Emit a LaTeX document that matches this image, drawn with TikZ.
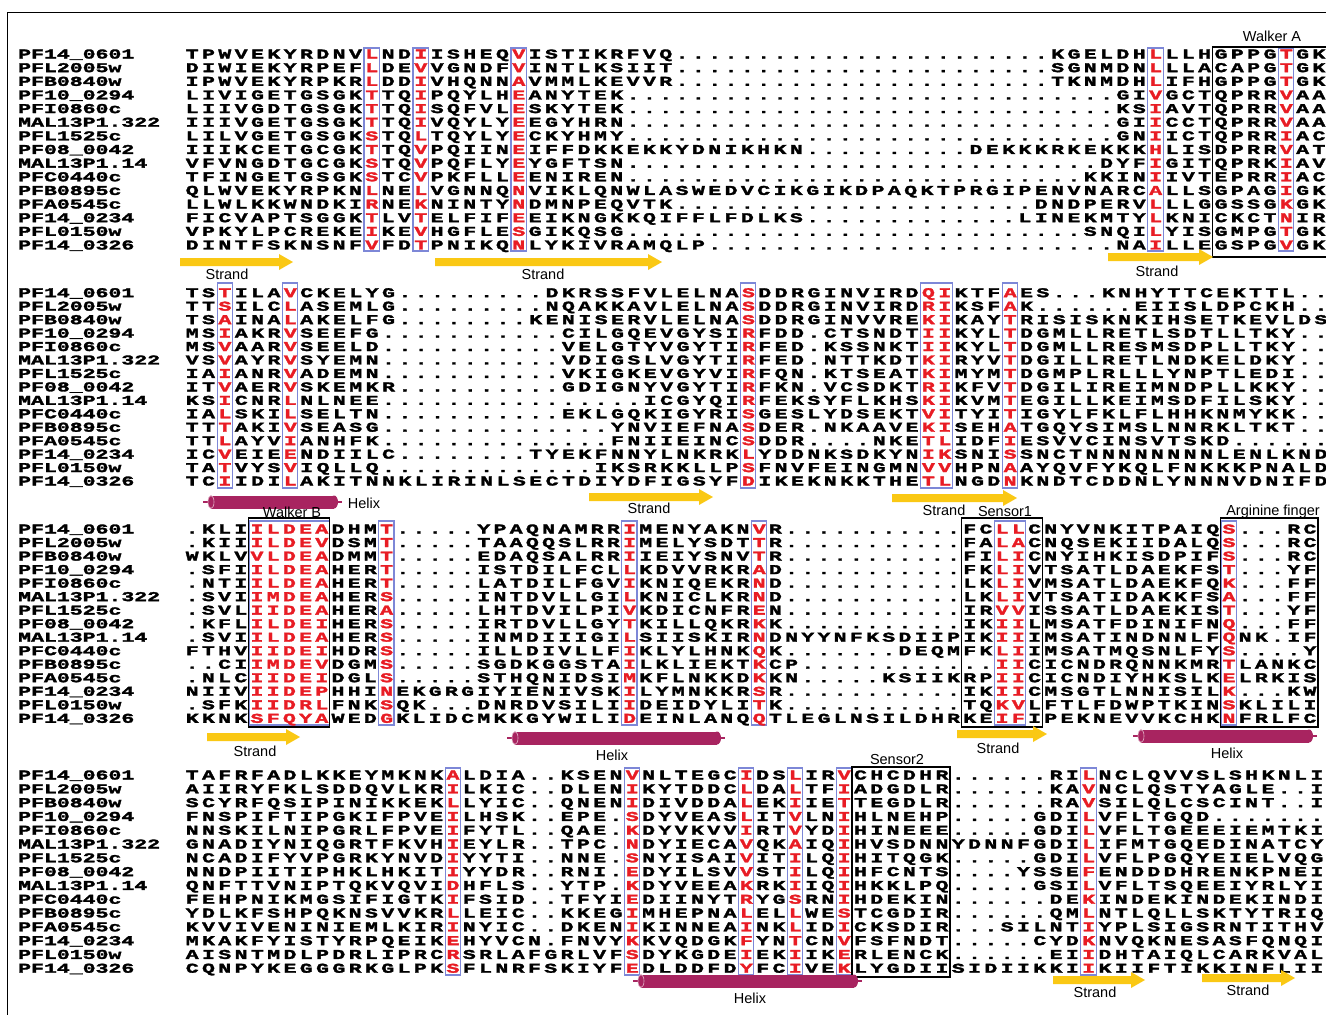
\documentclass[tikz,border=0pt]{standalone}
\usepackage{fontspec}
\setmainfont{Liberation Sans}
\newfontfamily\seqfont{Liberation Mono}[FakeStretch=1.6, BoldFeatures={FakeBold=2.2}]
\definecolor{seqred}{RGB}{232,28,36}
\definecolor{boxblue}{RGB}{125,135,215}
\definecolor{strandyel}{RGB}{250,200,20}
\definecolor{helixmag}{RGB}{168,36,96}
\newlength\cw
\newcount\dtc
\def\seqchar#1{\makebox[\cw]{\ifnum\uccode`#1=0 #1\else\ifnum\uccode`#1=`#1 #1\else\textcolor{seqred}{\uppercase{#1}}\fi\fi}}
\def\seqloop#1{\ifx#1\relax\else\seqchar{#1}\expandafter\seqloop\fi}
\newcommand\Seq[1]{\seqloop#1\relax}
\newcommand\Dt[1]{\dtc=#1\relax\loop\ifnum\dtc>0 \makebox[\cw]{.}\advance\dtc by -1\relax\repeat}
\def\nmloop#1{\ifx#1\relax\else\makebox[12.9pt]{#1}\expandafter\nmloop\fi}
\newcommand\Nm[1]{\nmloop#1\relax}
% block parameters: pitch, first row y, row step, box top, box bottom
\def\pa{16.33}\def\ya{54}\def\ha{13.64}\def\ta{48}\def\ba{251}
\def\pb{16.36}\def\yb{292.7}\def\hb{13.45}\def\tb{283}\def\bb{488}
\def\pc{16.2}\def\yc{529}\def\hc{13.52}\def\tc{521}\def\bc{725}
\def\pd{16.3}\def\yd{775}\def\hd{13.8}\def\td{768}\def\bd{975}
\tikzset{
  seqrow/.style={anchor=base west, inner sep=0pt, font=\seqfont\bfseries\fontsize{13.5}{13.5}\selectfont},
  namerow/.style={anchor=base west, inner sep=0pt, font=\seqfont\bfseries\fontsize{13.5}{13.5}\selectfont},
  lab/.style={inner sep=0pt, font=\fontsize{14.5}{14.5}\selectfont},
  bluebox/.style={draw=boxblue, line width=1.1pt},
  blackbox/.style={draw=black, line width=1.4pt}
}
\newcommand\SR[3]{\node[seqrow] (s#1#2) at ({192-\csname p#1\endcsname/2},{\csname y#1\endcsname+#2*\csname h#1\endcsname+4.5}) {\setlength\cw{\csname p#1\endcsname pt}#3};}
\newcommand\BB[3]{\draw[bluebox] ({192+#2*\csname p#1\endcsname-7.6},\csname t#1\endcsname) rectangle ({192+(#2+#3-1)*\csname p#1\endcsname+7.6},\csname b#1\endcsname);}
\newcommand\Names[1]{\foreach \n [count=\k from 0] in {PF14\_0601,PFL2005w,PFB0840w,PF10\_0294,PFI0860c,MAL13P1.322,PFL1525c,PF08\_0042,MAL13P1.14,PFC0440c,PFB0895c,PFA0545c,PF14\_0234,PFL0150w,PF14\_0326}{\node[namerow] (n#1\k) at (18,{\csname y#1\endcsname+\k*\csname h#1\endcsname+4.5}) {\expandafter\Nm\expandafter{\n}};}}
\newcommand\Strand[3]{\fill[strandyel] (#1,{#3-4}) -- ({#2-14},{#3-4}) -- ({#2-14},{#3-8}) -- (#2,#3) -- ({#2-14},{#3+8}) -- ({#2-14},{#3+4}) -- (#1,{#3+4}) -- cycle;}
\newcommand\Helix[3]{%
  \draw[helixmag, line width=1.6pt] (#1,#3) -- ({#1+8},#3);
  \draw[helixmag, line width=1.6pt] ({#2-4},#3) -- (#2,#3);
  \fill[helixmag] ({#1+8},{#3-6.5}) rectangle ({#2-8},{#3+6.5});
  \fill[helixmag] ({#2-8},#3) ellipse [x radius=4, y radius=6.5];
  \fill[helixmag] ({#1+8},#3) ellipse [x radius=3, y radius=6.5];
  \draw[white!65!helixmag, line width=0.6pt] ({#1+8},#3) ellipse [x radius=3, y radius=6.5];}
\begin{document}
\begin{tikzpicture}[x=1pt,y=-1pt]
\useasboundingbox[fill=white] (0,0) rectangle (1326,1015);
\clip (0,0) rectangle (1326,1015);
\draw[line width=0.8pt] (7,1015) -- (7,12) -- (1326,12);
% ---------- column boxes ----------
\BB{a}{11}{1}\BB{a}{14}{1}\BB{a}{20}{1}\BB{a}{59}{1}\BB{a}{67}{1}
\BB{b}{2}{1}\BB{b}{6}{1}\BB{b}{34}{1}\BB{b}{45}{2}\BB{b}{50}{1}
\BB{c}{4}{5}\BB{c}{12}{1}\BB{c}{27}{1}\BB{c}{35}{1}\BB{c}{50}{2}\BB{c}{64}{1}
\BB{d}{16}{1}\BB{d}{27}{1}\BB{d}{34}{1}\BB{d}{37}{1}\BB{d}{40}{1}\BB{d}{55}{1}
% ---------- motif boxes ----------
\draw[blackbox] (1212.6,47) rectangle (1340,257);
\draw[blackbox] ({192+4*16.2-8.1},518) rectangle ({192+8*16.2+8.1},727);
\draw[blackbox] ({192+48*16.2-8.1},518) rectangle ({192+52*16.2+8.1},727);
\draw[blackbox] ({192+64*16.2-8.1},518) rectangle ({192+69*16.2+8.1},727);
\draw[blackbox] ({192+41*16.3-8.15},767) rectangle ({192+46*16.3+8.15},977);
% ---------- names ----------
\Names{a}\Names{b}\Names{c}\Names{d}
% ---------- block 1 ----------
\SR{a}{0}{\Seq{TPWVEKYRDNVlNDiISHEQvISTIKRFVQ}\Dt{23}\Seq{KGELDHlLLHGPPGtGK}}
\SR{a}{1}{\Seq{DIWIEKYRPEFlDEvVGNDFvINTLKSIIT}\Dt{23}\Seq{SGNMDNlLLACAPGtGK}}
\SR{a}{2}{\Seq{IPWVEKYRPKRlDDiVHQNNaVMMLKEVVR}\Dt{23}\Seq{TKNMDHlIFHGPPGtGK}}
\SR{a}{3}{\Seq{LIVIGETGSGKtTQiPQYLHeANYTEK}\Dt{30}\Seq{GIvGCTQPRRvAA}}
\SR{a}{4}{\Seq{LIIVGDTGSGKtTQiSQFVLeSKYTEK}\Dt{30}\Seq{KSiAVTQPRRvAA}}
\SR{a}{5}{\Seq{IIIVGETGSGKtTQiVQYLYeEGYHRN}\Dt{30}\Seq{GIiCCTQPRRvAA}}
\SR{a}{6}{\Seq{LILVGETGSGKsTQlTQYLYeCKYHMY}\Dt{30}\Seq{GNiICTQPRRiAC}}
\SR{a}{7}{\Seq{IIIKCETGCGKtTQvPQIINeIFFDKKEKKYDNIKHKN}\Dt{10}\Seq{DEKKKRKEKKKhLISDPRRvAT}}
\SR{a}{8}{\Seq{VFVNGDTGCGKsTQvPQFLYeYGFTSN}\Dt{29}\Seq{DYFiGITQPRKiAV}}
\SR{a}{9}{\Seq{TFINGETGSGKsTCvPKFLLeENIREN}\Dt{28}\Seq{KKINiIVTEPRRiAC}}
\SR{a}{10}{\Seq{QLWVEKYRPKNlNElVGNNQnVIKLQNWLASWEDVCIKGIKDPAQKTPRGIPENVNARCaLLSGPAGiGK}}
\SR{a}{11}{\Seq{LLWLKKWNDKIrNEkNINTYnDMNPEQVTK}\Dt{22}\Seq{DNDPERVlLLGGSSGkGK}}
\SR{a}{12}{\Seq{FICVAPTSGGKtLVtELFIFeEIKNGKKQIFFLFDLKS}\Dt{13}\Seq{LINEKMTYlKNICKCTnIR}}
\SR{a}{13}{\Seq{VPKYLPCREKEiKEvHGFLEsGIKQSG}\Dt{28}\Seq{SNQIlYISGMPGtGK}}
\SR{a}{14}{\Seq{DINTFSKNSNFvFDtPNIKQnLYKIVRAMQLP}\Dt{25}\Seq{NAiLLEGSPGvGK}}
% ---------- block 2 ----------
\SR{b}{0}{\Seq{TStILAvCKELYG}\Dt{9}\Seq{DKRSSFVLELNAsDDRGINVIRDqiKTFaES}\Dt{3}\Seq{KNHYTTCEKTTL}\Dt{2}}
\SR{b}{1}{\Seq{TTsILClASEMLG}\Dt{9}\Seq{NQAKKAVLELNAsDDRGINVIRDriKSFaK}\Dt{6}\Seq{EIISLDPCKH}\Dt{2}}
\SR{b}{2}{\Seq{TSaINAlAKELFG}\Dt{8}\Seq{KENISERVLELNAsDDRGINVVREkiKAYtRISISKNKIHSETKEVLDS}}
\SR{b}{3}{\Seq{MSiAKRvSEEFG}\Dt{11}\Seq{CILGQEVGYSIrFDD.CTSNDTiiKYLtDGMLLRETLSDTLLTKY}\Dt{2}}
\SR{b}{4}{\Seq{MSvAARvSEELD}\Dt{11}\Seq{VELGTYVGYTIrFED.KSSNKTiiKYLtDGMLLRESMSDPLLTKY}\Dt{2}}
\SR{b}{5}{\Seq{VSvAYRvSYEMN}\Dt{11}\Seq{VDIGSLVGYTIrFED.NTTKDTkiRYVtDGILLRETLNDKELDKY}\Dt{2}}
\SR{b}{6}{\Seq{IAiANRvADEMN}\Dt{11}\Seq{VKIGKEVGYVIrFQN.KTSEATkiMYMtDGMPLRLLLYNPTLEDI}\Dt{2}}
\SR{b}{7}{\Seq{ITvAERvSKEMKR}\Dt{10}\Seq{GDIGNYVGYTIrFKN.VCSDKTriKFVtDGILIREIMNDPLLKKY}\Dt{2}}
\SR{b}{8}{\Seq{KSiCNRlNLNEE}\Dt{16}\Seq{ICGYQIrFEKSYFLKHSkiKVMtEGILLKEIMSDFILSKY}\Dt{2}}
\SR{b}{9}{\Seq{IAlSKIlSELTN}\Dt{11}\Seq{EKLGQKIGYRIsGESLYDSEKTviTYItIGYLFKLFLHHKNMYKK}\Dt{2}}
\SR{b}{10}{\Seq{TTtAKIvSEASG}\Dt{14}\Seq{YNVIEFNAsDER.NKAAVEkiSEHaTGQYSIMSLNNRKLTKT}\Dt{2}}
\SR{b}{11}{\Seq{TTlAYViANHFK}\Dt{14}\Seq{FNIIEINCsDDR....NKEtlIDFiESVVCINSVTSKD}\Dt{6}}
\SR{b}{12}{\Seq{ICvEIEeNDIILC}\Dt{8}\Seq{TYEKFNNYLNKRKlYDDNKSDKYNikSNIsSNCTNNNNNNNNLENLKND}}
\SR{b}{13}{\Seq{TAtVYSvIQLLQ}\Dt{13}\Seq{IKSRKKLLPsFNVFEINGMNvvHPNaAYQVFYKQLFNKKKPNALD}}
\SR{b}{14}{\Seq{TCiIDIlAKITNNKLIRINLSECTDIYDFIGSYFdIKEKNKKTHEtlNGDnKNDTCDDNLYNNNVDNIFD}}
% ---------- block 3 ----------
\SR{c}{0}{\Seq{.KLIildeaDHMt}\Dt{5}\Seq{YPAQNAMRRiMENYAKNvR}\Dt{11}\Seq{FCllCNYVNKITPAIQs}\Dt{3}\Seq{RC}}
\SR{c}{1}{\Seq{.KIIildevDSMt}\Dt{5}\Seq{TAAQQSLRRiMELYSDTtR}\Dt{11}\Seq{FAlaCNQSEKIIDALQs}\Dt{3}\Seq{RC}}
\SR{c}{2}{\Seq{WKLVvldeaDMMt}\Dt{5}\Seq{EDAQSALRRiIEIYSNVtR}\Dt{11}\Seq{FIliCNYIHKISDPIFs}\Dt{3}\Seq{RC}}
\SR{c}{3}{\Seq{.SFIildeaHERt}\Dt{5}\Seq{ISTDILFCLlKDVVRKRaD}\Dt{11}\Seq{FKliVTSATLDAEKFSt}\Dt{3}\Seq{YF}}
\SR{c}{4}{\Seq{.NTIildeaHERt}\Dt{5}\Seq{LATDILFGViKNIQEKRnD}\Dt{11}\Seq{LKliVMSATLDAEKFQk}\Dt{3}\Seq{FF}}
\SR{c}{5}{\Seq{.SVIimdeaHERs}\Dt{5}\Seq{INTDVLLGIlKNICLKRnD}\Dt{11}\Seq{LKliVTSATIDAKKFSa}\Dt{3}\Seq{FF}}
\SR{c}{6}{\Seq{.SVLiideaHERa}\Dt{5}\Seq{LHTDVILPIvKDICNFReN}\Dt{11}\Seq{IRvvISSATLDAEKISt}\Dt{3}\Seq{YF}}
\SR{c}{7}{\Seq{.KFLildeiHERs}\Dt{5}\Seq{IRTDVLLGYtKILLQKRkK}\Dt{11}\Seq{IKiiLMSATFDINIFNq}\Dt{3}\Seq{FF}}
\SR{c}{8}{\Seq{.SVIildeaHERs}\Dt{5}\Seq{INMDIIIGIlSIISKIRnDNYYNFKSDIIPIKiiIMSATINDNNLFqNK.IF}}
\SR{c}{9}{\Seq{FTHViideiHDRs}\Dt{5}\Seq{ILLDIVLLFiKLYLHNKqK}\Dt{7}\Seq{DEQMFKliIMSATMQSNLFYs}\Dt{4}\Seq{Y}}
\SR{c}{10}{\Seq{..CIimdevDGMs}\Dt{5}\Seq{SGDKGGSTAiLKLIEKTkCP}\Dt{12}\Seq{iiCICNDRQNNKMRtLANKC}}
\SR{c}{11}{\Seq{.NLCiideiDGLs}\Dt{5}\Seq{STHQNIDSImKFLNKKDkKN}\Dt{5}\Seq{KSIIKRPiiCICNDIYHKSLKeLRKIS}}
\SR{c}{12}{\Seq{NIIViidepHHIn}\Seq{EKGRGIYIENIVSKiLYMNKKRsR}\Dt{11}\Seq{IKiiCMSGTLNNISILk}\Dt{3}\Seq{KW}}
\SR{c}{13}{\Seq{.SFKiidrlFNKsQK}\Dt{3}\Seq{DNRDVSILIiDEIDYLItK}\Dt{11}\Seq{TQkvLFTLFDWPTKINsKLILI}}
\SR{c}{14}{\Seq{KKNKsfqyaWEDgKLIDCMKKGYWILIdEINLANQqTLEGLNSILDHRKEifIPEKNEVVKCHKnFRLFC}}
% ---------- block 4 ----------
\SR{d}{0}{\Seq{TAFRFADLKKEYMKNKaLDIA..KSENvNLTEGCiDSlIRvCHCDHR}\Dt{6}\Seq{RIlNCLQVVSLSHKNLI}}
\SR{d}{1}{\Seq{AIIRYFKLSDDQVLKRiLKIC..DLENiKYTDDClDAlTFiADGDLR}\Dt{6}\Seq{KAvNCLQSTYAGLE..I}}
\SR{d}{2}{\Seq{SCYRFQSIPINIKKEKlLYIC..QNENiDIVDDAlEKiIEtTEGDLR}\Dt{6}\Seq{RAvSILQLCSCINT..I}}
\SR{d}{3}{\Seq{FNSPIFTIPGKIFPVEiLHSK..EPE.sDYVEASlITvLNiHLNEHP}\Dt{5}\Seq{GDIlVFLTGQD}\Dt{7}}
\SR{d}{4}{\Seq{NNSKILNIPGRLFPVEiFYTL..QAE.kDYVKVViRTvYDiHINEEE}\Dt{5}\Seq{GDIlVFLTGEEEIEMTKI}}
\SR{d}{5}{\Seq{GNADIYNIQGRTFKVHiEYLR..TPC.nDYIECAvQKaIQiHVSDNNYDNNFGDIlIFMTGQEDINATCY}}
\SR{d}{6}{\Seq{NCADIFYVPGRKYNVDiYYTI..NNE.sNYISAIvITiLQiHITQGK}\Dt{5}\Seq{GDIlVFLPGQYEIELVQG}}
\SR{d}{7}{\Seq{NNDPIITIPHKLHKITiYYDR..RNI.eDYILSVvSTiLQiHFCNTS}\Dt{4}\Seq{YSSEfENDDDHRENKPNEI}}
\SR{d}{8}{\Seq{QNFTTVNIPTQKVQVIdHFLS..YTP.kDYVEEAkRKiIQiHKKLPQ}\Dt{5}\Seq{GSIlVFLTSQEEIYRLYI}}
\SR{d}{9}{\Seq{FEHPNIKMGSIFIGTKiFSID..TFYIeDIINYTrYGsRNiHDEKIN}\Dt{6}\Seq{DEkINDEKINDEKINDI}}
\SR{d}{10}{\Seq{YDLKFSHPQKNSVVKRlLEIC..KKEGiMHEPNAlELlWEsTCGDIR}\Dt{6}\Seq{QMlNTLQLLSKTYTRIQ}}
\SR{d}{11}{\Seq{KVVIVENINIEMLKIRiNYIC..DKENiKINNEAiNKlIDiCKSDIR}\Dt{3}\Seq{SILNTiYPLSIGSRNTITHV}}
\SR{d}{12}{\Seq{MKAKFYISTYRPQEIKeHYVCN.FNVYkKVQDGKfYNtCNvFSFNDT}\Dt{5}\Seq{CYDkNVQKNESASFQNQI}}
\SR{d}{13}{\Seq{AISNTMDLPDRLIPRCrSRLAFGRLVFsDYKGDEiEKiIKeRLENCK}\Dt{6}\Seq{EIiDHTAIQLCARKVAL}}
\SR{d}{14}{\Seq{CQNPYKEGGGRKGLPKsFLNRFSKIYFeDLDDFDyFCiVEkLYGDIISIDIIKKIiKIIFTIKKINFLII}}
% ---------- secondary structure ----------
\Strand{180}{293}{262}\Strand{435}{662}{262}\Strand{1108}{1213}{257}
\Helix{203}{342}{502}\Strand{589}{713}{497}\Strand{892}{1017}{498}
\Strand{207}{300}{737}\Helix{507}{725}{738}\Strand{957}{1047}{734}\Helix{1133}{1317}{736}
\Helix{633}{862}{981}\Strand{1053}{1145}{980}\Strand{1202}{1295}{978}
% ---------- labels ----------
\node[lab] (lwa) at (1272,36) {Walker A};
\node[lab] (ls1) at (227,274) {Strand};
\node[lab] (ls2) at (543,274) {Strand};
\node[lab] (ls3) at (1157,271) {Strand};
\node[lab] (lh1) at (364,503) {Helix};
\node[lab] (lwb) at (292,512) {Walker B};
\node[lab] (ls4) at (649,508) {Strand};
\node[lab] (ls5) at (944,510) {Strand};
\node[lab] (lse1) at (1005,512) {Sensor1};
\node[lab] (larg) at (1273,512) {Arginine finger};
\node[lab] (ls6) at (255,751) {Strand};
\node[lab] (lh2) at (612,755) {Helix};
\node[lab] (ls7) at (998,748) {Strand};
\node[lab] (lh3) at (1227,753) {Helix};
\node[lab] (lse2) at (897,759) {Sensor2};
\node[lab] (lh4) at (750,998) {Helix};
\node[lab] (ls8) at (1095,992) {Strand};
\node[lab] (ls9) at (1248,990) {Strand};
\end{tikzpicture}
\end{document}
